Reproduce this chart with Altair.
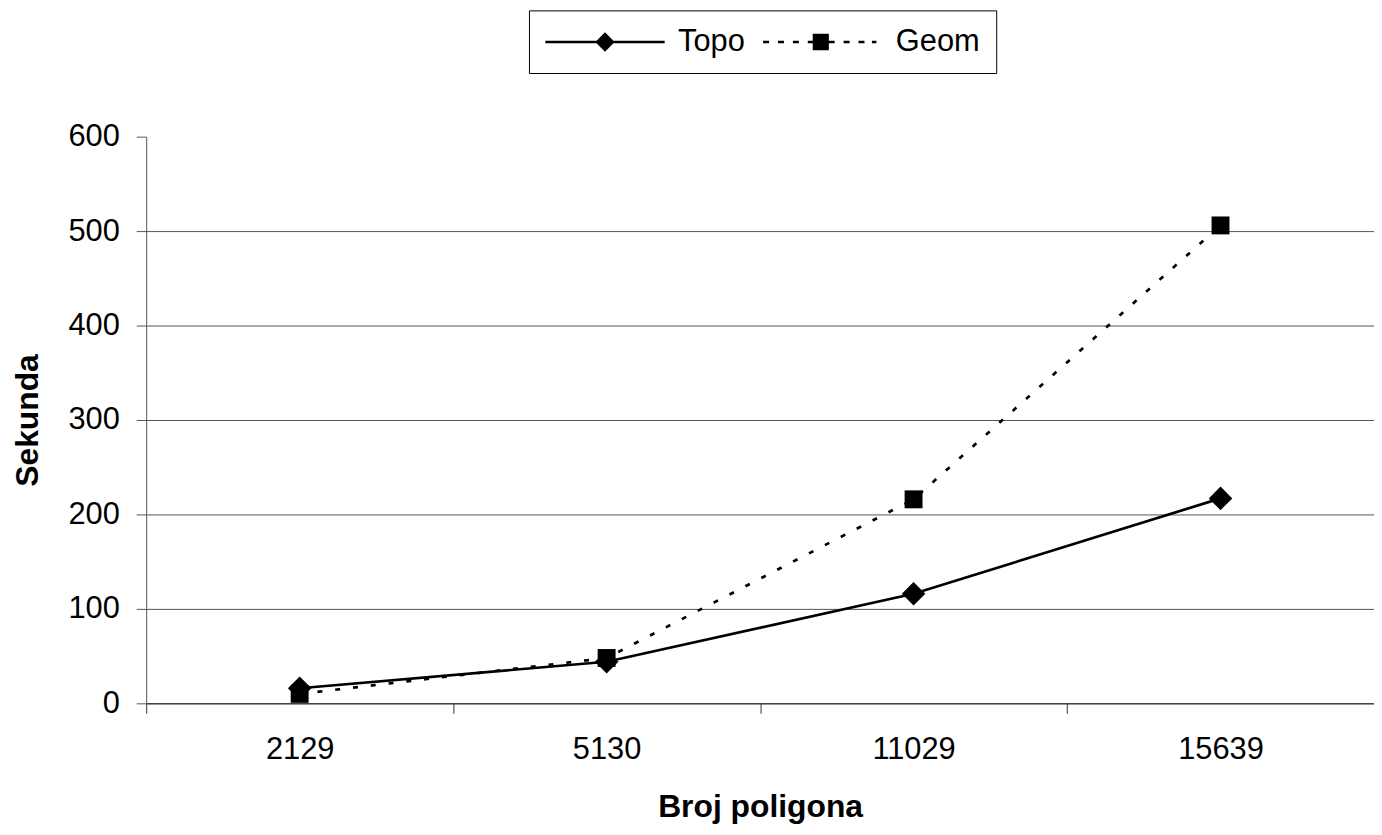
import altair as alt
import pandas as pd

# ---- data ----
polygons = ["2129", "5130", "11029", "15639"]
topo_seconds = [16, 44, 116, 217]
geom_seconds = [10, 48, 216, 506]
series_names = ["Topo", "Geom"]
y_ticks = [0, 100, 200, 300, 400, 500, 600]

rows = []
for name, vals in zip(series_names, [topo_seconds, geom_seconds]):
    for p, v in zip(polygons, vals):
        rows.append({"series": name, "polygons": p, "seconds": v})
df = pd.DataFrame(rows)

FONT = "Liberation Sans"


def seg(a, b, h=0.085):
    """filled thin rectangle from a to b (legend symbol units)"""
    return f"M{a},{-h}H{b}V{h}H{a}Z"


# legend symbol paths (line + marker), unit = 15px, symbol box spans -1..1
topo_path = seg(-1, 7) + "M2.35,0L3,-0.65L3.65,0L3,0.65Z"
geom_path = "".join(seg(a, b) for a, b in
                    [(-1, -0.6), (0, 0.4), (1, 1.4), (2, 2.4),
                     (3.4, 3.8), (4.4, 4.8), (5.4, 5.8), (6.3, 6.6)]) \
    + "M2.33,-0.55H3.41V0.55H2.33Z"

x_enc = alt.X(
    "polygons:N",
    sort=polygons,
    bandPosition=0.5,
    scale=alt.Scale(type="band", domain=polygons, paddingInner=0, paddingOuter=0),
    axis=alt.Axis(
        title="Broj poligona", tickBand="extent", labelAngle=0, grid=False,
        tickSize=10, tickColor="#333333", domainColor="#222222",
        labelPadding=21, labelFontSize=31, labelFont=FONT, labelColor="black",
        titleFontSize=32, titleFont=FONT, titleFontWeight="bold",
        titleColor="black", titlePadding=28,
    ),
)
y_enc = alt.Y(
    "seconds:Q",
    scale=alt.Scale(domain=[0, 600], nice=False),
    axis=alt.Axis(
        values=y_ticks, title="Sekunda", grid=True, gridColor="#555555",
        gridOpacity={"condition": {"test": "datum.value === 600", "value": 0}, "value": 1},
        domainColor="#555555", tickColor="#555555", tickSize=10,
        labelPadding=17, labelFontSize=31, labelFont=FONT, labelColor="black",
        titleFontSize=32, titleFont=FONT, titleFontWeight="bold",
        titleColor="black", titlePadding=24,
    ),
)

base = alt.Chart(df).encode(x=x_enc, y=y_enc)

topo_line = base.transform_filter("datum.series === 'Topo'").mark_line(
    color="black", strokeWidth=2.7)
topo_pts = base.transform_filter("datum.series === 'Topo'").mark_point(
    shape="diamond", filled=True, color="black", size=560, opacity=1)
geom_line = base.transform_filter("datum.series === 'Geom'").mark_line(
    color="black", strokeWidth=2.7, strokeDash=[5, 13])
geom_pts = base.transform_filter("datum.series === 'Geom'").mark_point(
    shape="square", filled=True, color="black", size=324, opacity=1)

legend_layer = base.transform_filter("datum.seconds < 0").mark_point(
    filled=True, color="black", opacity=1
).encode(
    shape=alt.Shape(
        "series:N",
        scale=alt.Scale(domain=series_names, range=[topo_path, geom_path]),
        legend=alt.Legend(
            title=None, orient="none", legendX=385, legendY=-127,
            direction="horizontal", labelFontSize=31, labelFont=FONT,
            labelColor="black", symbolSize=900, symbolStrokeWidth=0,
            symbolFillColor="black", symbolOpacity=1,
            labelOffset=103, columnPadding=17, padding=16,
            strokeColor="black", fillColor="white",
        ),
    )
)

chart = alt.layer(topo_line, topo_pts, geom_line, geom_pts, legend_layer).properties(
    width=1235,
    height=570,
    autosize=alt.AutoSizeParams(type="none"),
    padding={"left": 139, "top": 127, "right": 0, "bottom": 122},
    background="white",
).configure_view(stroke=None)

chart.save("out.html", embed_options={"renderer": "svg", "actions": False})
